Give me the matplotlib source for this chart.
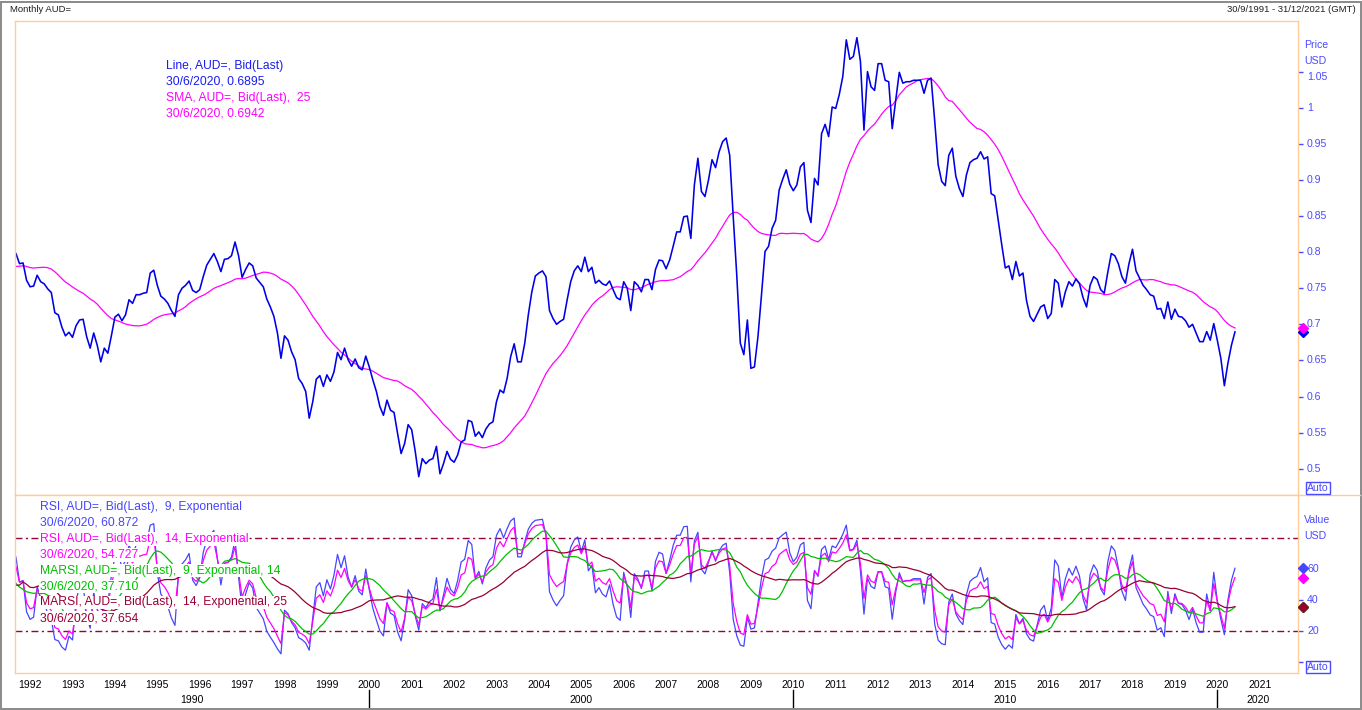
import matplotlib
matplotlib.use('Agg')
import matplotlib.pyplot as plt
import matplotlib.transforms as mtransforms
from matplotlib.lines import Line2D
from matplotlib.patches import Rectangle
import numpy as np
import pandas as pd

plt.rcParams['font.family'] = ['Liberation Sans', 'DejaVu Sans']

# monthly AUD= close, Sep 1991 .. Jun 2020
aud_close = [
    0.798, 0.784, 0.785, 0.761,                                                        # 1991 Sep-Dec
    0.752, 0.753, 0.768, 0.759, 0.756, 0.749, 0.744, 0.716, 0.713, 0.696, 0.684, 0.689,  # 1992
    0.682, 0.698, 0.706, 0.707, 0.683, 0.667, 0.688, 0.671, 0.648, 0.667, 0.660, 0.684,  # 1993
    0.710, 0.714, 0.705, 0.713, 0.734, 0.729, 0.741, 0.741, 0.743, 0.744, 0.771, 0.775,  # 1994
    0.754, 0.739, 0.735, 0.729, 0.719, 0.711, 0.741, 0.750, 0.754, 0.760, 0.747, 0.744,  # 1995
    0.748, 0.766, 0.782, 0.790, 0.798, 0.787, 0.773, 0.790, 0.791, 0.795, 0.814, 0.795,  # 1996
    0.765, 0.776, 0.785, 0.781, 0.764, 0.758, 0.752, 0.735, 0.724, 0.711, 0.688, 0.653,  # 1997
    0.684, 0.678, 0.662, 0.651, 0.625, 0.618, 0.607, 0.570, 0.593, 0.624, 0.629, 0.614,  # 1998
    0.630, 0.621, 0.634, 0.661, 0.651, 0.667, 0.651, 0.642, 0.652, 0.640, 0.637, 0.656,  # 1999
    0.641, 0.623, 0.607, 0.586, 0.574, 0.595, 0.581, 0.578, 0.549, 0.521, 0.535, 0.561,  # 2000
    0.554, 0.524, 0.489, 0.514, 0.507, 0.512, 0.514, 0.531, 0.493, 0.507, 0.524, 0.513,  # 2001
    0.509, 0.519, 0.537, 0.540, 0.567, 0.565, 0.545, 0.551, 0.543, 0.555, 0.562, 0.565,  # 2002
    0.593, 0.609, 0.605, 0.625, 0.655, 0.673, 0.648, 0.648, 0.674, 0.713, 0.745, 0.767,  # 2003
    0.771, 0.774, 0.766, 0.719, 0.708, 0.700, 0.704, 0.707, 0.734, 0.759, 0.774, 0.781,  # 2004
    0.773, 0.793, 0.773, 0.779, 0.757, 0.761, 0.756, 0.754, 0.760, 0.748, 0.737, 0.734,  # 2005
    0.759, 0.750, 0.719, 0.759, 0.754, 0.745, 0.762, 0.762, 0.748, 0.776, 0.789, 0.788,  # 2006
    0.777, 0.789, 0.808, 0.828, 0.828, 0.849, 0.850, 0.819, 0.893, 0.930, 0.884, 0.877,  # 2007
    0.900, 0.928, 0.917, 0.939, 0.953, 0.958, 0.934, 0.849, 0.768, 0.674, 0.658, 0.706,  # 2008
    0.639, 0.641, 0.683, 0.741, 0.801, 0.808, 0.833, 0.844, 0.886, 0.901, 0.914, 0.894,  # 2009
    0.885, 0.893, 0.918, 0.924, 0.858, 0.841, 0.902, 0.893, 0.964, 0.977, 0.960, 1.001,  # 2010
    0.999, 1.018, 1.043, 1.094, 1.067, 1.071, 1.097, 1.064, 0.969, 1.050, 1.029, 1.024,  # 2011
    1.061, 1.061, 1.038, 1.036, 0.971, 1.011, 1.049, 1.034, 1.036, 1.036, 1.038, 1.038,  # 2012
    1.038, 1.020, 1.038, 1.041, 0.983, 0.921, 0.898, 0.892, 0.934, 0.944, 0.905, 0.888,  # 2013
    0.877, 0.907, 0.924, 0.928, 0.930, 0.939, 0.929, 0.932, 0.881, 0.878, 0.844, 0.810,  # 2014
    0.778, 0.781, 0.762, 0.787, 0.767, 0.771, 0.733, 0.711, 0.704, 0.714, 0.724, 0.727,  # 2015
    0.708, 0.715, 0.762, 0.757, 0.724, 0.745, 0.759, 0.753, 0.763, 0.756, 0.737, 0.724,  # 2016
    0.754, 0.766, 0.762, 0.748, 0.743, 0.772, 0.798, 0.795, 0.784, 0.766, 0.757, 0.784,  # 2017
    0.804, 0.774, 0.764, 0.754, 0.748, 0.741, 0.739, 0.721, 0.722, 0.708, 0.731, 0.707,  # 2018
    0.721, 0.711, 0.710, 0.705, 0.696, 0.700, 0.688, 0.676, 0.676, 0.690, 0.678, 0.701,  # 2019
    0.678, 0.653, 0.615, 0.646, 0.671, 0.6895,                                           # 2020
]
# closes before the visible window (Sep 1989 .. Aug 1991), only feed the indicators
aud_prior = [0.775, 0.770, 0.785, 0.790, 0.770, 0.755, 0.750, 0.750, 0.765, 0.790, 0.810, 0.830,
             0.820, 0.800, 0.770, 0.770, 0.780, 0.780, 0.770, 0.780, 0.770, 0.760, 0.775, 0.790]

price_ticks = [0.5, 0.55, 0.6, 0.65, 0.7, 0.75, 0.8, 0.85, 0.9, 0.95, 1.0, 1.05]
rsi_ticks = [0, 20, 40, 60]
rsi_labels = ['', '20', '40', '60']
years = list(range(1992, 2022))
decades = [1990, 2000, 2010, 2020]

main_legend = [('Line, AUD=, Bid(Last)', 'blue'), ('30/6/2020, 0.6895', 'blue'),
               ('SMA, AUD=, Bid(Last),  25', 'mag'), ('30/6/2020, 0.6942', 'mag')]
sub_legend = [('RSI, AUD=, Bid(Last),  9, Exponential', 'blue2'), ('30/6/2020, 60.872', 'blue2'),
              ('RSI, AUD=, Bid(Last),  14, Exponential', 'mag'), ('30/6/2020, 54.727', 'mag'),
              ('MARSI, AUD=, Bid(Last),  9, Exponential, 14', 'green'), ('30/6/2020, 37.710', 'green'),
              ('MARSI, AUD=, Bid(Last),  14, Exponential, 25', 'maroon'), ('30/6/2020, 37.654', 'maroon')]

C = {'blue': '#1c1cf0', 'line': '#0000e6', 'blue2': '#4646ff', 'mag': '#ff00ff',
     'green': '#00c000', 'maroon': '#990033', 'axis': '#4a4aff', 'frame': '#ffcc99'}

# indicators
s = pd.Series(aud_prior + aud_close)
sma25 = s.rolling(25, min_periods=1).mean()
d = s.diff().fillna(0)
up, dn = d.clip(lower=0), (-d).clip(lower=0)
def rsi(n):
    au = up.ewm(span=n, adjust=False).mean()
    ad = dn.ewm(span=n, adjust=False).mean()
    return 100 * au / (au + ad)
rsi9, rsi14 = rsi(9), rsi(14)
marsi9 = rsi9.rolling(14, min_periods=1).mean()
marsi14 = rsi14.rolling(25, min_periods=1).mean()
k = len(aud_prior)
sma25, rsi9, rsi14, marsi9, marsi14 = [x.values[k:] for x in (sma25, rsi9, rsi14, marsi9, marsi14)]

W, H = 1362, 710
def px_year(px):
    return 2000 + (px - 369.3) / 42.4
t = 1991 + 8 / 12 + np.arange(len(aud_close)) / 12
x0, x1 = px_year(15), px_year(1298)
xmk = px_year(1302.5)

fig = plt.figure(figsize=(W / 100, H / 100), dpi=100)
def ftext(px, py, txt, **kw):
    return fig.text(px / W, 1 - py / H, txt, **kw)

ax = fig.add_axes([15 / W, 1 - 495 / H, 1283 / W, 474 / H])
ax2 = fig.add_axes([15 / W, 1 - 673 / H, 1283 / W, 178 / H])

for a in (ax, ax2):
    a.set_xlim(x0, x1)
    a.set_xticks([])
    for sp in a.spines.values():
        sp.set_color(C['frame'])
        sp.set_linewidth(1)
    a.yaxis.tick_right()
    a.tick_params(axis='y', length=3.6, width=1, color=C['axis'], labelright=False, direction='out')

ax.set_ylim(0.4636, 1.1201)
ax2.set_ylim(-7.2, 108.0)

# main panel
ax.plot(t, sma25, color=C['mag'], lw=0.9)
ax.plot(t, aud_close, color=C['line'], lw=1.15)
ax.plot(xmk, aud_close[-1], 'D', ms=5, color=C['line'], clip_on=False, zorder=6)
ax.plot(xmk, sma25[-1], 'D', ms=5, color=C['mag'], clip_on=False, zorder=7)
ax.set_yticks(price_ticks)
tr = mtransforms.blended_transform_factory(ax.transAxes, ax.transData)
for v in price_ticks:
    yy = v - 0.007 if v == 1.05 else v
    ax.text(1 + 9 / 1283, yy, f'{v:g}', transform=tr, color=C['axis'], fontsize=7.6,
            va='center', ha='left', clip_on=False)

# RSI panel
ax2.axhline(80, color=C['maroon'], lw=1, dashes=(5, 2.5, 1.5, 2.5))
ax2.axhline(20, color=C['maroon'], lw=1, dashes=(5, 2.5, 1.5, 2.5))
ax2.plot(t, rsi9, color=C['blue2'], lw=0.9)
ax2.plot(t, rsi14, color=C['mag'], lw=0.9)
ax2.plot(t, marsi9, color=C['green'], lw=0.9)
ax2.plot(t, marsi14, color=C['maroon'], lw=0.9)
for val, col, z in ((rsi9[-1], 'blue2', 6), (rsi14[-1], 'mag', 7), (marsi9[-1], 'green', 8), (marsi14[-1], 'maroon', 9)):
    ax2.plot(xmk, val, 'D', ms=5, color=C[col], clip_on=False, zorder=z)
ax2.set_yticks(rsi_ticks)
tr2 = mtransforms.blended_transform_factory(ax2.transAxes, ax2.transData)
for v, lab in zip(rsi_ticks, rsi_labels):
    ax2.text(1 + 9 / 1283, v, lab, transform=tr2, color=C['axis'], fontsize=7.6,
             va='center', ha='left', clip_on=False)

# time axis
trx = mtransforms.blended_transform_factory(ax2.transData, ax2.transAxes)
for yr in years:
    ax2.text(yr, -0.067, str(yr), transform=trx, ha='center', va='center', fontsize=7.5, clip_on=False)
bounds = [x0, 2000, 2010, 2020, x1]
for i, dec in enumerate(decades):
    ax2.text((bounds[i] + bounds[i + 1]) / 2, -0.152, str(dec), transform=trx, ha='center',
             va='center', fontsize=7.5, clip_on=False)
for dec in decades[1:]:
    ax2.plot([dec, dec], [-0.096, -0.197], transform=trx, color='black', lw=1, clip_on=False)

# legends
for j, (txt, col) in enumerate(main_legend):
    ftext(166, 65.7 + 15.9 * j, txt, color=C[col], fontsize=8.7, va='center', ha='left')
for j, (txt, col) in enumerate(sub_legend):
    ftext(40, 507 + 15.9 * j, txt, color=C[col], fontsize=8.7, va='center', ha='left',
          bbox=dict(fc='white', ec='none', pad=0.6))

# header and right side labels
ftext(10, 10, 'Monthly AUD=', fontsize=6.8, va='center', ha='left', color='#202020')
ftext(1356, 10, '30/9/1991 - 31/12/2021 (GMT)', fontsize=6.8, va='center', ha='right', color='#202020')
ftext(1304, 45, 'Price', fontsize=7.6, va='center', ha='left', color=C['axis'])
ftext(1304, 61, 'USD', fontsize=7.6, va='center', ha='left', color=C['axis'])
ftext(1304, 520, 'Value', fontsize=7.6, va='center', ha='left', color=C['axis'])
ftext(1304, 536, 'USD', fontsize=7.6, va='center', ha='left', color=C['axis'])
for py in (488, 667):
    ftext(1307, py, 'Auto', fontsize=7.6, va='center', ha='left', color=C['axis'],
          bbox=dict(boxstyle='square,pad=0.12', fc='white', ec=C['axis'], lw=1))

fig.add_artist(Line2D([1298 / W, 1360 / W], [1 - 495 / H, 1 - 495 / H], color=C['frame'], lw=1))
fig.add_artist(Rectangle((0.5 / W, 1 / H), 1 - 2 / W, 1 - 2.5 / H, fill=False, ec='#8a8a8a', lw=1.4))

fig.savefig('out.png', dpi=100)
